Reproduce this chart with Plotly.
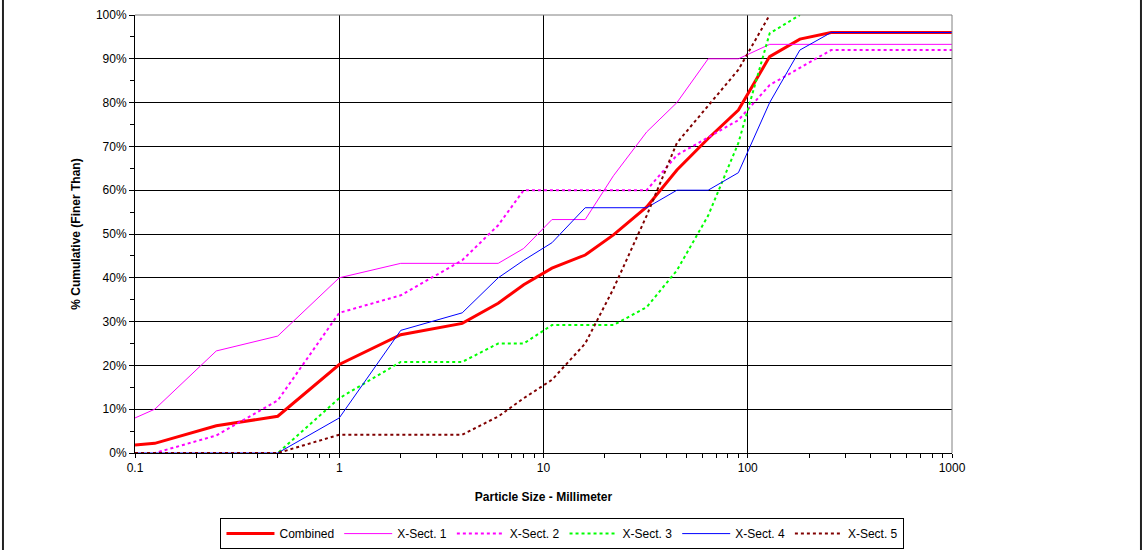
import plotly.graph_objects as go

# Particle size classes (mm) and cumulative percent finer for each sample
sizes = [0.1, 0.125, 0.25, 0.5, 1, 2, 4, 6, 8, 11, 16, 22, 32, 45, 64, 90,
         128, 180, 256, 362, 512, 1024]

combined = [1.8, 2.2, 6.2, 8.4, 20.2, 27.0, 29.6, 34.2, 38.4, 42.2, 45.2, 49.8,
            56.2, 64.6, 71.8, 78.3, 90.5, 94.5, 96, 96, 96, 96]
xsect1 = [8, 10, 23.3, 26.7, 40, 43.3, 43.3, 43.3, 46.7, 53.3, 53.3, 63.3,
          73.3, 80, 90, 90, 93.3, 93.3, 93.3, 93.3, 93.3, 93.3]
xsect2 = [0, 0, 4, 12, 32, 36, 44, 52, 60, 60, 60, 60,
          60, 68, 72, 76, 84, 88, 92, 92, 92, 92]
xsect3 = [0, 0, 0, 0, 12.5, 20.8, 20.8, 25, 25, 29.2, 29.2, 29.2,
          33.3, 41.7, 54.2, 70.8, 95.8, 100, None, None, None, None]
xsect4 = [0, 0, 0, 0, 8, 28, 32, 40, 44, 48, 56, 56,
          56, 60, 60, 64, 80, 92, 96, 96, 96, 96]
xsect5 = [0, 0, 0, 0, 4.17, 4.17, 4.17, 8.33, 12.5, 16.7, 25, 37.5,
          54.2, 70.8, 79.2, 87.5, 100, None, None, None, None, None]

x_tick_vals = [0.1, 1, 10, 100, 1000]
x_tick_text = ["0.1", "1", "10", "100", "1000"]

FONT = "Liberation Sans, Arial, sans-serif"
DOT = "3px,3px"

series = [
    ("Combined", combined, dict(color="#FF0000", width=3)),
    ("X-Sect. 1", xsect1, dict(color="#FF00FF", width=1)),
    ("X-Sect. 2", xsect2, dict(color="#FF00FF", width=2, dash=DOT)),
    ("X-Sect. 3", xsect3, dict(color="#00FF00", width=2, dash=DOT)),
    ("X-Sect. 4", xsect4, dict(color="#0000FF", width=1)),
    ("X-Sect. 5", xsect5, dict(color="#800000", width=2, dash=DOT)),
]

fig = go.Figure()
for name, vals, line in series:
    fig.add_trace(go.Scatter(x=sizes, y=vals, name=name, mode="lines",
                             line=line, connectgaps=False))

minor_x = [m * 10 ** e for e in range(-1, 3) for m in range(2, 10)]

fig.update_layout(
    width=1143, height=550,
    margin=dict(l=135, r=191, t=15, b=97, autoexpand=False),
    paper_bgcolor="white", plot_bgcolor="white",
    font=dict(family=FONT, size=12, color="black"),
    showlegend=True,
    legend=dict(
        orientation="h", xref="container", yref="container",
        x=0.4921, xanchor="center", y=0.058, yanchor="top",
        bordercolor="black", borderwidth=1, bgcolor="white",
        font=dict(family=FONT, size=12, color="black"),
        itemwidth=48, tracegroupgap=0,
    ),
    xaxis=dict(
        type="log", range=[-1, 3],
        tickmode="array", tickvals=x_tick_vals, ticktext=x_tick_text,
        showgrid=True, gridcolor="black", gridwidth=1,
        ticks="outside", ticklen=4, tickcolor="black",
        showline=True, linecolor="black", linewidth=1,
        minor=dict(tickvals=minor_x, ticks="outside", ticklen=4,
                   tickcolor="black", showgrid=False),
        zeroline=False,
        title=dict(text="Particle Size - Millimeter", standoff=18,
                   font=dict(family=FONT, size=12, weight="bold")),
    ),
    yaxis=dict(
        range=[0, 100], dtick=10, ticksuffix="%",
        showgrid=True, gridcolor="black", gridwidth=1,
        ticks="outside", ticklen=5, tickcolor="black",
        showline=True, linecolor="black", linewidth=1,
        minor=dict(dtick=5, ticks="outside", ticklen=4, tickcolor="black",
                   showgrid=False),
        zeroline=False,
        title=dict(text="% Cumulative (Finer Than)", standoff=12,
                   font=dict(family=FONT, size=12, weight="bold")),
    ),
    shapes=[
        # gray frame on the top and right of the plot area
        dict(type="line", xref="paper", yref="paper", x0=0, x1=1, y0=1, y1=1,
             line=dict(color="#808080", width=1), layer="above"),
        dict(type="line", xref="paper", yref="paper", x0=1, x1=1, y0=0, y1=1,
             line=dict(color="#808080", width=1), layer="above"),
        # outer chart border
        dict(type="line", xref="paper", yref="paper", x0=-0.1616, x1=-0.1616,
             y0=-1, y1=2, line=dict(color="#222222", width=2)),
        dict(type="line", xref="paper", yref="paper", x0=1.2313, x1=1.2313,
             y0=-1, y1=2, line=dict(color="#222222", width=2)),
    ],
)

fig.write_html("out.html")
